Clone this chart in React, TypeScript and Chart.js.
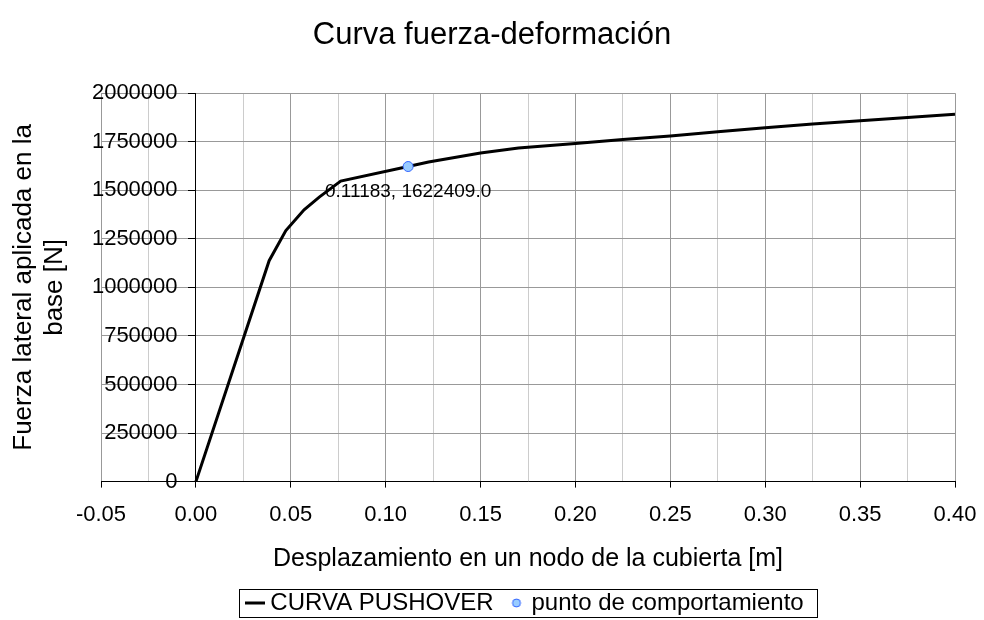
import { useEffect, useRef } from 'react';
import { Chart, registerables } from 'chart.js';

Chart.register(...registerables);

const FONT = "'Liberation Sans', Arial, Helvetica, sans-serif";

const chartTitle = 'Curva fuerza-deformación';
const xAxisTitle = 'Desplazamiento en un nodo de la cubierta [m]';
const yAxisTitle = ['Fuerza lateral aplicada en la', 'base [N]'];
const seriesNames = ['CURVA PUSHOVER', 'punto de comportamiento'];

// CURVA PUSHOVER
const displacement = [0, 0.0386, 0.0474, 0.057, 0.065, 0.0763, 0.11183, 0.1226, 0.15, 0.17, 0.2, 0.225, 0.25, 0.275, 0.3, 0.325, 0.35, 0.375, 0.4];
const force = [0, 1137600, 1292750, 1399800, 1465000, 1547700, 1622409, 1646000, 1692500, 1718000, 1741000, 1762000, 1780000, 1801000, 1822000, 1841000, 1858000, 1875000, 1891000];

// punto de comportamiento
const perfX = [0.11183];
const perfY = [1622409];

// axes
const xMin = -0.05;
const xMax = 0.4;
const xStep = 0.025;
const xMajor = 0.05;
const yMin = 0;
const yMax = 2000000;
const yStep = 250000;

const isMajor = (v: number) => Math.abs(Math.round(v / xMajor) * xMajor - v) < 1e-7;

function lineIcon() {
  const c = document.createElement('canvas');
  c.width = 20;
  c.height = 4;
  const g = c.getContext('2d')!;
  g.fillStyle = '#000';
  g.fillRect(0, 0.5, 20, 3);
  return c;
}

function dotIcon() {
  const c = document.createElement('canvas');
  c.width = 12;
  c.height = 12;
  const g = c.getContext('2d')!;
  g.beginPath();
  g.arc(6, 6, 4, 0, Math.PI * 2);
  g.fillStyle = '#99CCFF';
  g.fill();
  g.lineWidth = 1;
  g.strokeStyle = '#3366FF';
  g.stroke();
  return c;
}

const legendBorder = {
  id: 'legendBorder',
  afterDraw(chart: any) {
    const lg = chart.legend;
    if (!lg || !lg.legendHitBoxes || !lg.legendHitBoxes.length) return;
    const hb = lg.legendHitBoxes;
    const first = hb[0];
    const last = hb[hb.length - 1];
    const left = first.left - 13;
    const right = last.left + last.width + 14;
    const cy = first.top + first.height / 2;
    const ctx = chart.ctx;
    ctx.save();
    ctx.strokeStyle = '#000';
    ctx.lineWidth = 1;
    ctx.strokeRect(Math.round(left) + 0.5, Math.round(cy - 14) + 0.5, Math.round(right - left), 28);
    ctx.restore();
  },
};

const pointLabel = {
  id: 'pointLabel',
  afterDatasetsDraw(chart: any) {
    const meta = chart.getDatasetMeta(0);
    const ctx = chart.ctx;
    ctx.save();
    ctx.font = `19px ${FONT}`;
    ctx.fillStyle = '#000';
    ctx.textAlign = 'center';
    ctx.textBaseline = 'middle';
    meta.data.forEach((el: any, i: number) => {
      const txt = `${perfX[i].toFixed(5)}, ${perfY[i].toFixed(1)}`;
      ctx.fillText(txt, el.x, el.y + 25);
    });
    ctx.restore();
  },
};

export default function App() {
  const ref = useRef<HTMLCanvasElement | null>(null);
  useEffect(() => {
    if (!ref.current) return;
    const icons = [lineIcon(), dotIcon()];
    const chart = new Chart(ref.current, {
      type: 'line',
      data: {
        datasets: [
          {
            label: seriesNames[1],
            type: 'scatter',
            data: perfX.map((x, i) => ({ x, y: perfY[i] })),
            pointRadius: 5,
            pointBackgroundColor: '#99CCFF',
            pointBorderColor: '#3366FF',
            pointBorderWidth: 1,
            showLine: false,
            order: 0,
          } as any,
          {
            label: seriesNames[0],
            data: displacement.map((x, i) => ({ x, y: force[i] })),
            borderColor: '#000',
            borderWidth: 3,
            pointRadius: 0,
            tension: 0,
            fill: false,
            order: 1,
          },
        ],
      },
      options: {
        animation: false,
        responsive: true,
        maintainAspectRatio: false,
        layout: { padding: { left: 29, right: 29, top: 0, bottom: -5 } },
        plugins: {
          tooltip: { enabled: false },
          title: {
            display: true,
            text: chartTitle,
            color: '#000',
            font: { size: 31, weight: 'normal', family: FONT },
            padding: { top: 17, bottom: 39 },
          },
          legend: {
            position: 'bottom',
            fullSize: false,
            labels: {
              usePointStyle: true,
              pointStyleWidth: 6,
              boxHeight: 12,
              color: '#000',
              font: { size: 24, family: FONT },
              padding: 20,
              generateLabels: () =>
                seriesNames.map((t, i) => ({
                  text: t,
                  pointStyle: icons[i],
                  fillStyle: 'transparent',
                  strokeStyle: 'transparent',
                  lineWidth: 0,
                  hidden: false,
                  datasetIndex: i === 0 ? 1 : 0,
                })) as any,
            },
          },
        },
        scales: {
          x: {
            type: 'linear',
            position: 'bottom',
            min: xMin,
            max: xMax,
            ticks: {
              stepSize: xStep,
              autoSkip: false,
              maxRotation: 0,
              color: '#000',
              font: { size: 22, family: FONT, lineHeight: 1.836 },
              padding: 7,
              callback: (v: any) => (isMajor(Number(v)) ? Number(v).toFixed(2) : ''),
            },
            grid: {
              color: (c: any) => (isMajor(c.tick.value) ? '#999999' : '#cccccc'),
              tickColor: (c: any) => (isMajor(c.tick.value) ? '#000' : 'rgba(0,0,0,0)'),
              tickLength: 6,
              lineWidth: 1,
            },
            border: { color: '#000', width: 1 },
            title: {
              display: true,
              text: xAxisTitle,
              color: '#000',
              font: { size: 25, family: FONT },
              padding: { top: 2, bottom: -3 },
            },
          },
          y: {
            type: 'linear',
            position: { x: 0 } as any,
            min: yMin,
            max: yMax,
            ticks: {
              stepSize: yStep,
              color: '#000',
              font: { size: 22, family: FONT },
              padding: 10,
              callback: (v: any) => String(v) + '   ',
            },
            grid: { color: '#999999', tickColor: '#000', tickLength: 7, lineWidth: 1 },
            border: { color: '#000', width: 1 },
          },
          yTitle: {
            type: 'linear',
            position: 'left',
            min: 0,
            max: 1,
            ticks: { display: false },
            grid: { display: false, drawTicks: false },
            border: { display: false },
            title: {
              display: true,
              text: yAxisTitle,
              color: '#000',
              font: { size: 26, family: FONT },
              padding: { top: -21, bottom: 30.6 },
            },
          },
        },
      },
      plugins: [legendBorder, pointLabel],
    });
    return () => chart.destroy();
  }, []);
  return (
    <div style={{ position: 'absolute', left: 0, top: 0, width: 984, height: 620, background: '#fff' }}>
      <canvas ref={ref} />
    </div>
  );
}
